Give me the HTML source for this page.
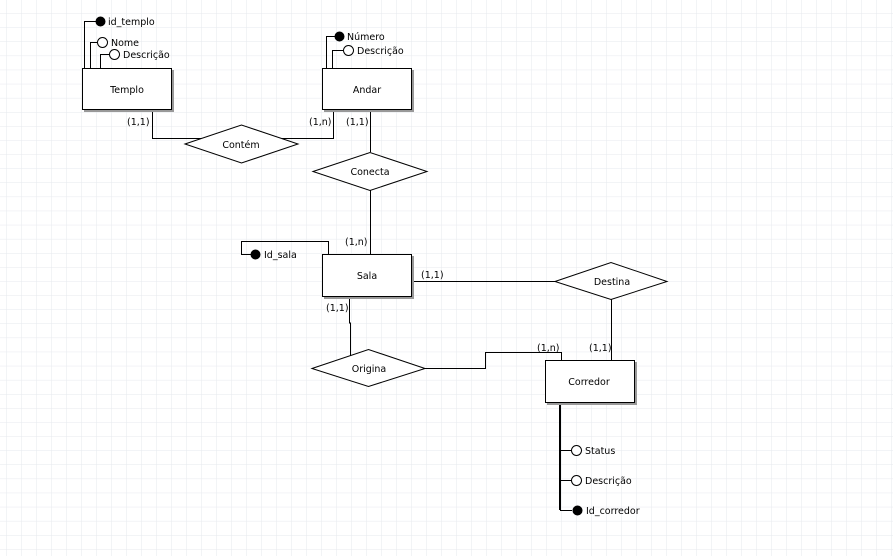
<!DOCTYPE html>
<html><head><meta charset="utf-8"><style>
html,body{margin:0;padding:0;background:#fff;}
svg{display:block;}
text{font-family:"DejaVu Sans","Liberation Sans",sans-serif;font-size:9.5px;fill:#000;}
</style></head><body>
<svg width="893" height="556" viewBox="0 0 893 556" xmlns="http://www.w3.org/2000/svg">
<defs>
<pattern id="g" x="6" y="13.3" width="15" height="14.1" patternUnits="userSpaceOnUse">
<path d="M0 0H15M0 0V14.1" stroke="#e6e9ee" stroke-width="1" fill="none"/>
</pattern>
</defs>
<rect width="893" height="556" fill="#fff"/>
<rect width="893" height="556" fill="url(#g)"/>
<g stroke="#000" stroke-width="1" fill="none">
<!-- Templo attrs -->
<polyline points="84.5,68 84.5,21.5 96,21.5"/>
<polyline points="90.5,68 90.5,42.5 97,42.5"/>
<polyline points="100.5,68 100.5,54.5 109,54.5"/>
<!-- Andar attrs -->
<polyline points="326.5,68 326.5,36.5 335,36.5"/>
<polyline points="332.5,68 332.5,50.5 343,50.5"/>
<!-- Contem -->
<polyline points="152.5,110 152.5,138.5 203,138.5"/>
<polyline points="279,138.5 333.5,138.5 333.5,110"/>
<!-- Conecta -->
<line x1="370.5" y1="110" x2="370.5" y2="152"/>
<line x1="370.5" y1="190" x2="370.5" y2="254"/>
<!-- Id_sala -->
<polyline points="328.5,254 328.5,241.5 241.5,241.5 241.5,254.5 252,254.5"/>
<!-- Destina -->
<line x1="412" y1="281.5" x2="555" y2="281.5"/>
<line x1="611.5" y1="299" x2="611.5" y2="360"/>
<!-- Origina -->
<polyline points="349.5,297 349.5,323 350.5,323 350.5,356"/>
<polyline points="425,368.5 485.5,368.5 485.5,352.5 561.5,352.5 561.5,360"/>
<!-- Corredor attrs -->
<line x1="560" y1="402" x2="560" y2="510" stroke-width="2"/>
<line x1="560" y1="450.5" x2="571" y2="450.5"/>
<line x1="560" y1="480.5" x2="571" y2="480.5"/>
<line x1="560" y1="510.5" x2="572" y2="510.5"/>
</g>
<!-- entities with shadow -->
<g>
<rect x="84" y="70" width="90" height="42" fill="#999"/>
<rect x="82.5" y="68.5" width="89" height="41" fill="#fff" stroke="#000"/>
<rect x="324" y="70" width="90" height="42" fill="#999"/>
<rect x="322.5" y="68.5" width="89" height="41" fill="#fff" stroke="#000"/>
<rect x="324" y="256" width="90" height="43" fill="#999"/>
<rect x="322.5" y="254.5" width="89" height="42" fill="#fff" stroke="#000"/>
<rect x="547" y="362" width="90" height="43" fill="#999"/>
<rect x="545.5" y="360.5" width="89" height="42" fill="#fff" stroke="#000"/>
</g>
<!-- diamonds -->
<g fill="#fff" stroke="#000">
<polygon points="185,144 241.5,125 298,144 241.5,163"/>
<polygon points="313,171.5 370,152.5 427,171.5 370,190.5"/>
<polygon points="555,281.5 611,262.5 667,281.5 611,299.5"/>
<polygon points="312,368.5 368.5,349.5 425,368.5 368.5,386.5"/>
</g>
<!-- attribute circles -->
<g stroke="#000">
<circle cx="100.5" cy="21.5" r="4.5" fill="#000"/>
<circle cx="102.5" cy="42.5" r="5" fill="#fff"/>
<circle cx="114.5" cy="54.5" r="5" fill="#fff"/>
<circle cx="339.5" cy="36.5" r="4.5" fill="#000"/>
<circle cx="348.5" cy="50.5" r="5" fill="#fff"/>
<circle cx="255.5" cy="254.5" r="4.5" fill="#000"/>
<circle cx="576.5" cy="450.5" r="5" fill="#fff"/>
<circle cx="576.5" cy="480.5" r="5" fill="#fff"/>
<circle cx="577.5" cy="510.5" r="4.5" fill="#000"/>
</g>
<g>
<text x="108" y="25">id_templo</text>
<text x="111" y="46">Nome</text>
<text x="123" y="58">Descrição</text>
<text x="347" y="40">Número</text>
<text x="357" y="54">Descrição</text>
<text x="264" y="258">Id_sala</text>
<text x="585" y="454">Status</text>
<text x="585" y="484">Descrição</text>
<text x="586" y="514">Id_corredor</text>
<text x="127" y="125">(1,1)</text>
<text x="309" y="125">(1,n)</text>
<text x="346" y="125">(1,1)</text>
<text x="345" y="245">(1,n)</text>
<text x="421" y="278">(1,1)</text>
<text x="326" y="311">(1,1)</text>
<text x="537" y="351">(1,n)</text>
<text x="589" y="351">(1,1)</text>
<g text-anchor="middle">
<text x="127" y="93">Templo</text>
<text x="367" y="93">Andar</text>
<text x="367" y="279">Sala</text>
<text x="589" y="385">Corredor</text>
<text x="241" y="148">Contém</text>
<text x="370" y="175">Conecta</text>
<text x="612" y="285">Destina</text>
<text x="369" y="372">Origina</text>
</g>
</g>
</svg>
</body></html>
